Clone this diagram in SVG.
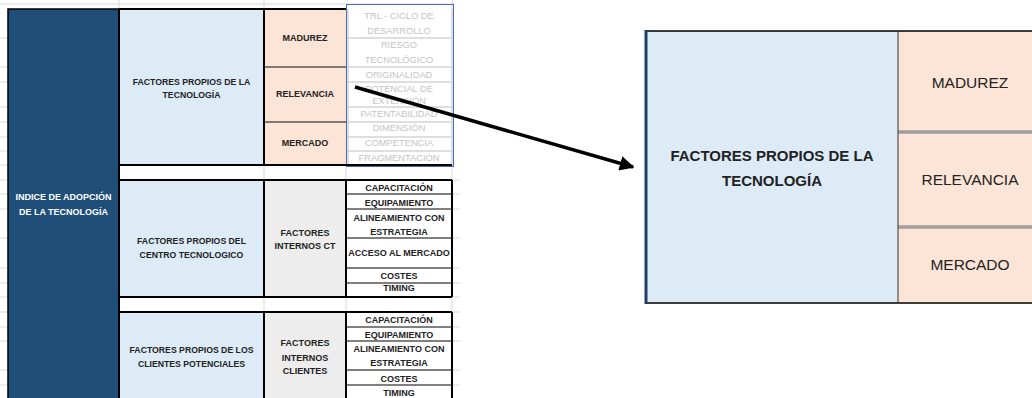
<svg xmlns="http://www.w3.org/2000/svg" width="1032" height="398" viewBox="0 0 1032 398">
  <style>
    .t { font-family: "Liberation Sans", Arial, sans-serif; text-anchor: middle; }
    .b { font-weight: bold; }
    .s9 { font-size: 9px; }
    .lbl { font-size: 8.7px; font-weight: bold; fill: #222; }
    .cell { font-size: 9px; font-weight: bold; fill: #222; }
    .ghost { font-size: 9.3px; fill: #c4c4c4; }
    .grid { stroke: #d9d9d9; stroke-width: 1; fill: none; }
    .thick { stroke: #000; stroke-width: 2; fill: none; }
    .thin { stroke: #000; stroke-width: 1; fill: none; }
    .blue { fill: #DDEBF7; }
    .peach { fill: #FCE4D6; }
    .gray { fill: #EDEDED; }
  </style>
  <defs>
    <marker id="arrowhead" viewBox="0 0 10 10" refX="9" refY="5" markerWidth="4.2" markerHeight="4.2" orient="auto" markerUnits="strokeWidth">
      <path d="M0,0 L10,5 L0,10 Z" fill="#000"/>
    </marker>
  </defs>

  <rect width="1032" height="398" fill="#fff"/>

  <!-- spreadsheet gridlines peeking out around the table -->
  <g class="grid">
    <line x1="0" y1="4" x2="455" y2="4"/>
    <line x1="119" y1="0" x2="119" y2="9"/>
    <line x1="264" y1="0" x2="264" y2="9"/>
    <line x1="452" y1="0" x2="452" y2="9"/>
    <path d="M0,38H8M0,67H8M0,82H8M0,107H8M0,122H8M0,137H8M0,151H8M0,165H8M0,180H8M0,194H8M0,209H8M0,238H8M0,268H8M0,283H8M0,297H8M0,312H8M0,327H8M0,341H8M0,370H8M0,385H8"/>
    <path d="M453,180H460M453,194H460M453,209H460M453,238H460M453,268H460M453,283H460M453,297H460M453,312H460M453,327H460M453,341H460M453,370H460M453,385H460"/>
    <!-- empty spacer rows -->
    <path d="M264,165V180M346,165V180M452,165V180M264,297V312M346,297V312M452,297V312"/>
  </g>

  <!-- root column -->
  <g id="indice-adopcion">
    <rect x="8" y="9" width="111" height="395" fill="#1F4E78" stroke="#000" stroke-width="1.5"/>
    <text class="t b" font-size="9px" fill="#fff" x="63.5" y="200">INDICE DE ADOPCIÓN</text>
    <text class="t b" font-size="9px" fill="#fff" x="63.5" y="215">DE LA TECNOLOGÍA</text>
  </g>

  <!-- block 1: technology factors -->
  <g id="factores-tecnologia">
    <rect x="119" y="9" width="145" height="156" class="blue"/>
    <text class="t lbl" x="191.5" y="85">FACTORES PROPIOS DE LA</text>
    <text class="t lbl" x="191.5" y="98">TECNOLOGÍA</text>
  </g>
  <g id="madurez">
    <rect x="264" y="9" width="82" height="58" class="peach"/>
    <text class="t cell" x="305" y="41">MADUREZ</text>
  </g>
  <g id="relevancia">
    <rect x="264" y="67" width="82" height="55" class="peach"/>
    <text class="t cell" x="305" y="97">RELEVANCIA</text>
  </g>
  <g id="mercado">
    <rect x="264" y="122" width="82" height="43" class="peach"/>
    <text class="t cell" x="305" y="146">MERCADO</text>
  </g>
  <g id="subfactores-tecnologia">
    <rect x="346" y="9" width="106" height="156" fill="#fff"/>
    <path d="M346,38H452M346,67H452M346,82H452M346,107H452M346,122H452M346,137H452M346,151H452M452,9V165M348,9V165" stroke="#d4d4d4" stroke-width="1.5" fill="none"/>
    <text class="t ghost" x="399" y="19">TRL - CICLO DE</text>
    <text class="t ghost" x="399" y="34">DESARROLLO</text>
    <text class="t ghost" x="399" y="48">RIESGO</text>
    <text class="t ghost" x="399" y="63">TECNOLÓGICO</text>
    <text class="t ghost" x="399" y="78">ORIGINALIDAD</text>
    <text class="t ghost" x="399" y="92">POTENCIAL DE</text>
    <text class="t ghost" x="399" y="104">EXTENSIÓN</text>
    <text class="t ghost" x="399" y="117">PATENTABILIDAD</text>
    <text class="t ghost" x="399" y="131">DIMENSIÓN</text>
    <text class="t ghost" x="399" y="146">COMPETENCIA</text>
    <text class="t ghost" x="399" y="161">FRAGMENTACIÓN</text>
    <rect x="346.5" y="4.5" width="107" height="162" fill="none" stroke="#4a6cb0" stroke-width="1"/>
  </g>
  <path d="M264,67H346M264,122H346" stroke="#555" stroke-width="1.5"/>
  <path d="M119,9H346M119,165H452M119,9V165M264,9V165" class="thick"/>

  <!-- block 2: technology centre factors -->
  <g id="factores-centro">
    <rect x="119" y="180" width="145" height="117" class="blue"/>
    <text class="t lbl" x="191.5" y="244">FACTORES PROPIOS DEL</text>
    <text class="t lbl" x="191.5" y="258">CENTRO TECNOLOGICO</text>
  </g>
  <g id="internos-ct">
    <rect x="264" y="180" width="82" height="117" class="gray"/>
    <text class="t cell" x="305" y="236">FACTORES</text>
    <text class="t cell" x="305" y="249">INTERNOS CT</text>
  </g>
  <g id="subfactores-centro">
    <rect x="346" y="180" width="106" height="117" fill="#fff"/>
    <path d="M346,194H452M346,209H452M346,238H452M346,268H452M346,283H452" class="thin"/>
    <text class="t cell" x="399" y="191">CAPACITACIÓN</text>
    <text class="t cell" x="399" y="206">EQUIPAMIENTO</text>
    <text class="t cell" x="399" y="221">ALINEAMIENTO CON</text>
    <text class="t cell" x="399" y="235">ESTRATEGIA</text>
    <text class="t cell" x="399" y="256">ACCESO AL MERCADO</text>
    <text class="t cell" x="399" y="279">COSTES</text>
    <text class="t cell" x="399" y="291">TIMING</text>
  </g>
  <path d="M119,180H452M119,297H452M264,180V297M346,180V297M452,180V297" class="thick"/>

  <!-- block 3: potential client factors -->
  <g id="factores-clientes">
    <rect x="119" y="312" width="145" height="90" class="blue"/>
    <text class="t lbl" x="191.5" y="353">FACTORES PROPIOS DE LOS</text>
    <text class="t lbl" x="191.5" y="367">CLIENTES POTENCIALES</text>
  </g>
  <g id="internos-clientes">
    <rect x="264" y="312" width="82" height="90" class="gray"/>
    <text class="t cell" x="305" y="346">FACTORES</text>
    <text class="t cell" x="305" y="361">INTERNOS</text>
    <text class="t cell" x="305" y="374">CLIENTES</text>
  </g>
  <g id="subfactores-clientes">
    <rect x="346" y="312" width="106" height="90" fill="#fff"/>
    <path d="M346,327H452M346,341H452M346,370H452M346,385H452" class="thin"/>
    <text class="t cell" x="399" y="323">CAPACITACIÓN</text>
    <text class="t cell" x="399" y="338">EQUIPAMIENTO</text>
    <text class="t cell" x="399" y="352">ALINEAMIENTO CON</text>
    <text class="t cell" x="399" y="366">ESTRATEGIA</text>
    <text class="t cell" x="399" y="382">COSTES</text>
    <text class="t cell" x="399" y="396">TIMING</text>
  </g>
  <path d="M119,312H452M264,312V400M346,312V400M452,312V400" class="thick"/>
  <line x1="119" y1="9" x2="119" y2="400" class="thick"/>

  <!-- enlarged view of the technology block -->
  <g id="detalle-tecnologia">
    <rect x="646" y="31" width="252" height="272" class="blue"/>
    <text class="t b" font-size="15px" fill="#222" x="772" y="161">FACTORES PROPIOS DE LA</text>
    <text class="t b" font-size="15px" fill="#222" x="772" y="186">TECNOLOGÍA</text>
  </g>
  <g id="detalle-madurez">
    <rect x="898" y="31" width="134" height="101" class="peach"/>
    <text class="t" font-size="15.5px" fill="#222" x="970" y="88">MADUREZ</text>
  </g>
  <g id="detalle-relevancia">
    <rect x="898" y="132" width="134" height="95" class="peach"/>
    <text class="t" font-size="15.5px" fill="#222" x="970" y="185">RELEVANCIA</text>
  </g>
  <g id="detalle-mercado">
    <rect x="898" y="227" width="134" height="76" class="peach"/>
    <text class="t" font-size="15.5px" fill="#222" x="970" y="270">MERCADO</text>
  </g>
  <path d="M898,132H1032M898,227H1032" stroke="#777" stroke-width="3"/>
  <path d="M898,132H1032M898,227H1032" stroke="#ddd" stroke-width="0.8"/>
  <path d="M646,31H1032M646,303H1032" stroke="#000" stroke-width="1.5" fill="none"/>
  <line x1="898" y1="31" x2="898" y2="303" stroke="#333" stroke-width="1"/>
  <line x1="646" y1="30" x2="646" y2="304" stroke="#1F3F66" stroke-width="3"/>

  <!-- connectors -->
  <g id="connectors">
    <line x1="355" y1="87" x2="633" y2="167" stroke="#000" stroke-width="3.5" marker-end="url(#arrowhead)"/>
  </g>
</svg>
